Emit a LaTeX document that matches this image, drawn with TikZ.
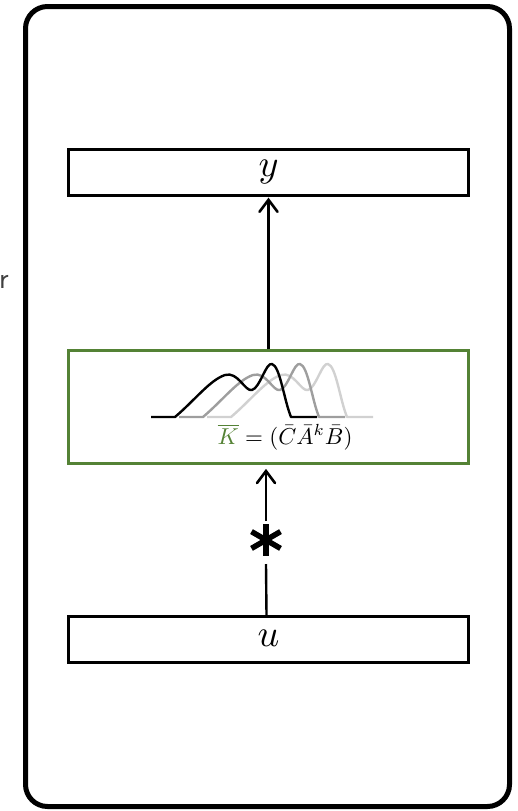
\documentclass[tikz,border=0pt]{standalone}
\usepackage{fontspec}
\usepackage{amsmath}
\usetikzlibrary{arrows.meta}
\definecolor{kgreen}{RGB}{84,130,53}
\begin{document}
\begin{tikzpicture}[x=1pt,y=-1pt,
  io/.style={draw=black,line width=2.6pt,minimum width=400pt,minimum height=46pt,inner sep=0pt},
  filt/.style={draw=kgreen,line width=3pt,minimum width=400pt,minimum height=113pt,inner sep=0pt},
  conn/.style={line width=2.4pt},
  head/.style={line width=2.6pt,line cap=round,line join=miter},
  kern/.style={line width=2.4pt,line join=round},
  star/.style={line width=5.5pt}]
\useasboundingbox (0,0) rectangle (518,811);
\node[draw=black,line width=5pt,rounded corners=22pt,minimum width=484pt,minimum height=800pt,inner sep=0pt] (frame) at (267.5,406.5) {};
\node[anchor=east,text=black!75,font=\sffamily\fontsize{30}{32}\selectfont,inner sep=0pt] (cut) at (9,282) {r};
\node[io] (y) at (268.5,172.5) {\scalebox{3.8}{$y$}};
\node[io] (u) at (268.5,639.5) {\raisebox{2pt}{\scalebox{3.8}{$u$}}};
\node[filt] (k) at (268.5,407) {};
\draw[kern,black!18,shift={(56,0)}] (151,417) -- (175,417) .. controls (195,400) and (210,380) .. (225,375) .. controls (238,371) and (245,392) .. (252,390) .. controls (260,388) and (266,362) .. (272,364) .. controls (280,366) and (284,400) .. (291,417) -- (317,417);
\draw[kern,black!38,shift={(28,0)}] (151,417) -- (175,417) .. controls (195,400) and (210,380) .. (225,375) .. controls (238,371) and (245,392) .. (252,390) .. controls (260,388) and (266,362) .. (272,364) .. controls (280,366) and (284,400) .. (291,417) -- (317,417);
\draw[kern,black] (151,417) -- (175,417) .. controls (195,400) and (210,380) .. (225,375) .. controls (238,371) and (245,392) .. (252,390) .. controls (260,388) and (266,362) .. (272,364) .. controls (280,366) and (284,400) .. (291,417) -- (317,417);
\node[inner sep=0pt] (formula) at (285,437) {\scalebox{2.3}{$\textcolor{kgreen}{\overline{K}} = (\bar{C}\bar{A}^{k}\bar{B})$}};
% top connector
\coordinate (ytip) at ([yshift=-3pt]y.south);
\draw[conn] (k.north -| y.south) -- (ytip);
\draw[head] (ytip) ++(-9,12) -- (ytip) -- ++(9,12);
% asterisk
\coordinate (sc) at (266,540);
\draw[star] (sc) ++(0,-16) -- ++(0,32);
\draw[star] (sc) ++(-14.5,-8.4) -- ++(29,16.8);
\draw[star] (sc) ++(-14.5,8.4) -- ++(29,-16.8);
% lower connector
\draw[conn] (u.north) ++(-2,0) coordinate (us) -- (266,564) coordinate (sb);
\coordinate (ktip) at (266,471);
\draw[conn] (266,521) coordinate (st) -- (ktip);
\draw[head] (ktip) ++(-9,12) -- (ktip) -- ++(9,12);
\end{tikzpicture}
\end{document}
